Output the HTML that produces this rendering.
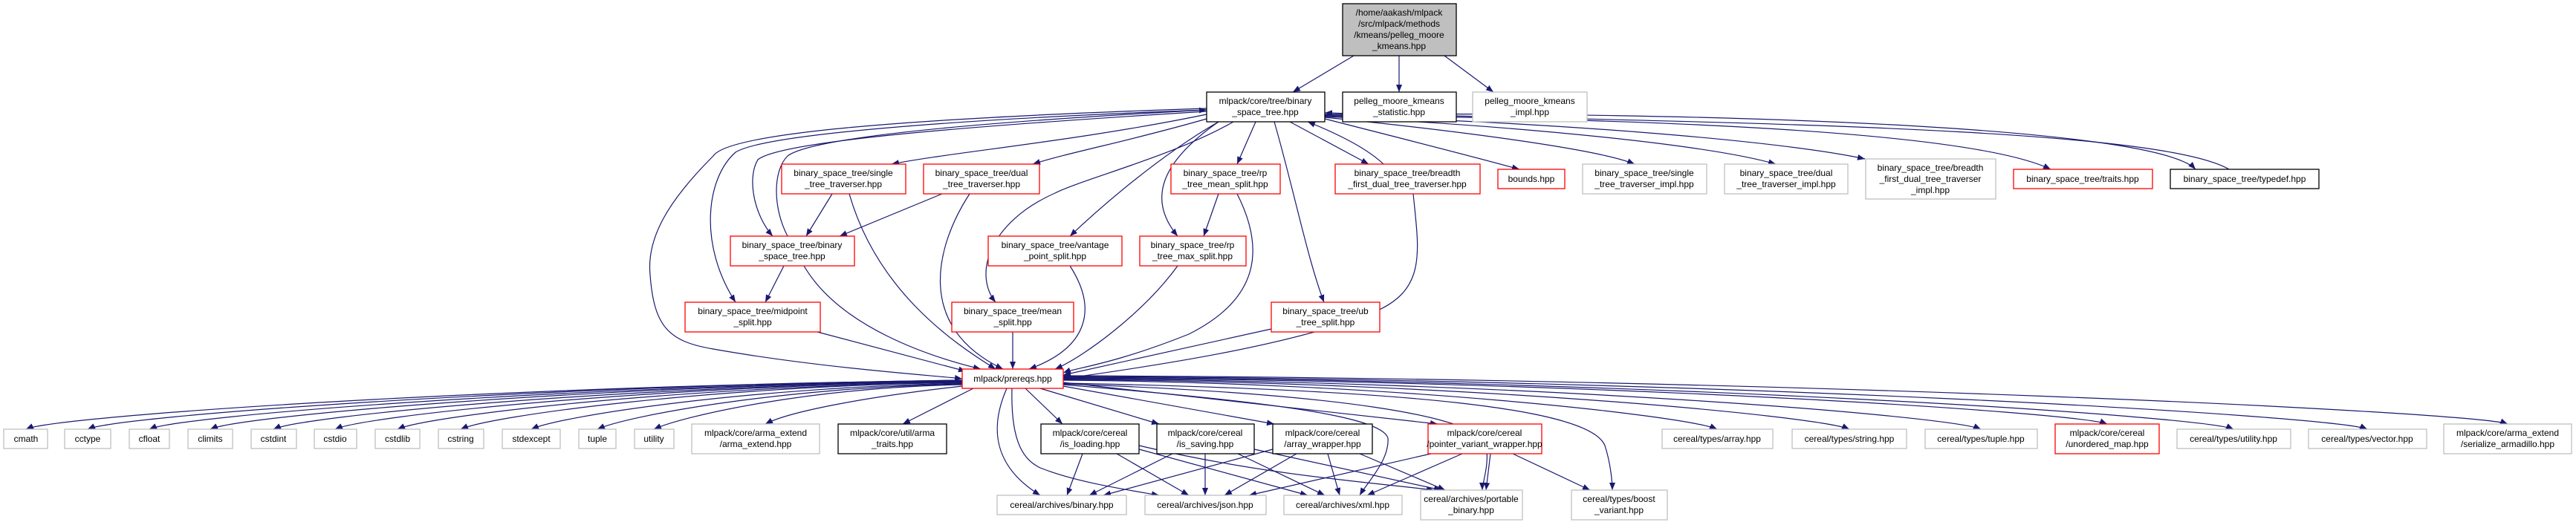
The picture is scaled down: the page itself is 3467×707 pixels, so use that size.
<!DOCTYPE html>
<html><head><meta charset="utf-8"><style>
html,body{margin:0;padding:0;background:#fff;}
svg{display:block}
text{font-family:"Liberation Sans",sans-serif;font-size:12px;fill:#000;text-anchor:middle}
.e{fill:none;stroke:#191970;stroke-width:1.2;marker-end:url(#a)}
.r{fill:#fff;stroke:#ff0000;stroke-width:1.3}
.k{fill:#fff;stroke:#000;stroke-width:1.3}
.g{fill:#fff;stroke:#bfbfbf;stroke-width:1.3}
</style></head><body>
<svg width="3467" height="707" viewBox="0 0 3467 707" xmlns="http://www.w3.org/2000/svg">
<defs><marker id="a" markerWidth="10" markerHeight="8" refX="10" refY="4" orient="auto" markerUnits="userSpaceOnUse"><path d="M0,0L10,4L0,8z" fill="#191970"/></marker></defs>

<!-- edges -->
<path class="e" d="M1822,75 L1740,124"/>
<path class="e" d="M1883,75 L1883,124"/>
<path class="e" d="M1944,75 L2010,124"/>
<path class="e" d="M1624,154 C1450,190 1280,205 1200,221"/>
<path class="e" d="M1624,160 C1520,190 1440,205 1390,221"/>
<path class="e" d="M1624,150 C1300,170 1050,190 1020,215 C1005,240 1015,290 1040,318"/>
<path class="e" d="M1060,318 C1040,280 1040,230 1060,210 C1100,180 1400,160 1624,148"/>
<path class="e" d="M1624,148 C1300,160 1030,180 990,205 C950,240 940,330 990,407"/>
<path class="e" d="M1624,146 C1200,160 980,180 960,210 C900,270 870,320 875,370 C880,440 900,460 960,470 C1100,495 1250,505 1295,510"/>
<path class="e" d="M1640,164 C1560,210 1480,280 1440,318"/>
<path class="e" d="M1660,164 C1580,210 1460,240 1420,260 C1330,300 1310,370 1340,407"/>
<path class="e" d="M1690,164 L1665,221"/>
<path class="e" d="M1640,164 C1560,220 1545,270 1585,318"/>
<path class="e" d="M1715,164 C1740,250 1760,350 1782,407"/>
<path class="e" d="M1736,164 L1842,221"/>
<path class="e" d="M1862,221 C1840,200 1800,180 1760,164"/>
<path class="e" d="M1783,160 C1900,190 1980,210 2045,228"/>
<path class="e" d="M1783,158 C1950,175 2150,200 2200,221"/>
<path class="e" d="M1783,157 C2050,170 2300,195 2390,221"/>
<path class="e" d="M1783,156 C2100,165 2400,190 2510,214"/>
<path class="e" d="M1783,155 C2200,160 2650,175 2760,228"/>
<path class="e" d="M1783,154 C2300,150 2900,170 2955,228"/>
<path class="e" d="M3000,228 C2900,170 2300,165 1783,152"/>

<path class="e" d="M1120,261 L1085,318"/>
<path class="e" d="M1143,261 C1180,390 1280,460 1340,497"/>
<path class="e" d="M1268,261 L1130,318"/>
<path class="e" d="M1305,261 C1260,330 1230,440 1350,497"/>
<path class="e" d="M1055,358 L1030,407"/>
<path class="e" d="M1082,358 C1130,440 1250,480 1320,497"/>
<path class="e" d="M1100,447 L1300,500"/>
<path class="e" d="M1363,447 L1363,497"/>
<path class="e" d="M1440,358 C1480,420 1460,470 1385,497"/>
<path class="e" d="M1640,261 L1620,318"/>
<path class="e" d="M1665,261 C1700,330 1700,400 1600,450 C1500,490 1450,495 1431,502"/>
<path class="e" d="M1585,358 C1540,420 1460,480 1420,497"/>
<path class="e" d="M1711,443 L1431,505"/>
<path class="e" d="M1902,261 C1910,340 1920,390 1850,420 C1730,470 1500,500 1431,510"/>

<path class="e" d="M1295,512 C665,520 75,560 35,578"/>
<path class="e" d="M1295,512 C706,520 158,560 118,578"/>
<path class="e" d="M1295,513 C748,520 241,560 201,578"/>
<path class="e" d="M1295,513 C789,520 323,560 283,578"/>
<path class="e" d="M1295,514 C831,520 408,560 368,578"/>
<path class="e" d="M1295,514 C873,520 491,560 451,578"/>
<path class="e" d="M1295,515 C915,520 575,560 535,578"/>
<path class="e" d="M1295,515 C957,520 660,560 620,578"/>
<path class="e" d="M1295,516 C1005,522 755,560 715,578"/>
<path class="e" d="M1295,517 C1050,522 844,560 804,578"/>
<path class="e" d="M1295,518 C1088,522 920,560 880,578"/>
<path class="e" d="M1295,520 C1160,535 1060,555 1030,571"/>
<path class="e" d="M1310,523 L1215,571"/>
<path class="e" d="M1380,523 L1430,571"/>
<path class="e" d="M1400,523 L1560,571"/>
<path class="e" d="M1431,520 L1715,571"/>
<path class="e" d="M1431,515 L1935,571"/>
<path class="e" d="M1431,512 C1871,515 2271,560 2311,578"/>
<path class="e" d="M1431,511 C1960,514 2449,560 2489,578"/>
<path class="e" d="M1431,510 C2048,513 2626,560 2666,578"/>
<path class="e" d="M1431,509 C2133,512 2796,555 2836,571"/>
<path class="e" d="M1431,508 C2218,511 2966,560 3006,578"/>
<path class="e" d="M1431,507 C2308,510 3146,560 3186,578"/>
<path class="e" d="M1431,506 C2403,509 3335,555 3375,571"/>

<path class="e" d="M1355,523 C1330,580 1340,630 1400,667"/>
<path class="e" d="M1362,523 C1360,600 1380,620 1400,630 C1450,650 1520,660 1560,667"/>
<path class="e" d="M1431,518 C1700,540 1860,560 1868,590 C1870,620 1840,650 1830,667"/>
<path class="e" d="M1431,517 C1800,530 1990,560 2000,600 C2005,625 1995,650 1995,660"/>
<path class="e" d="M1431,516 C1900,525 2140,550 2160,600 C2168,625 2170,650 2170,660"/>

<path class="e" d="M1457,611 L1436,667"/>
<path class="e" d="M1503,611 L1600,667"/>
<path class="e" d="M1533,605 L1760,667"/>
<path class="e" d="M1533,600 C1700,640 1850,650 1930,660"/>
<path class="e" d="M1578,611 L1466,667"/>
<path class="e" d="M1622,611 L1622,667"/>
<path class="e" d="M1666,611 L1783,667"/>
<path class="e" d="M1688,605 L1940,660"/>
<path class="e" d="M1713,605 L1485,667"/>
<path class="e" d="M1745,611 L1648,667"/>
<path class="e" d="M1787,611 L1803,667"/>
<path class="e" d="M1830,611 L1945,660"/>
<path class="e" d="M1926,611 L1681,667"/>
<path class="e" d="M1968,611 L1840,667"/>
<path class="e" d="M2006,611 L2000,660"/>
<path class="e" d="M2036,611 L2140,660"/>

<!-- nodes -->
<rect x="1807" y="5" width="153" height="70" fill="#bfbfbf" stroke="#000" stroke-width="1.3"/>
<text x="1883" y="21">/home/aakash/mlpack</text><text x="1883" y="36">/src/mlpack/methods</text><text x="1883" y="51">/kmeans/pelleg_moore</text><text x="1883" y="66">_kmeans.hpp</text>

<rect class="k" x="1624" y="124" width="159" height="40"/><text x="1703" y="140">mlpack/core/tree/binary</text><text x="1703" y="155">_space_tree.hpp</text>
<rect class="k" x="1807" y="124" width="153" height="40"/><text x="1883" y="140">pelleg_moore_kmeans</text><text x="1883" y="155">_statistic.hpp</text>
<rect class="g" x="1982" y="124" width="154" height="40"/><text x="2059" y="140">pelleg_moore_kmeans</text><text x="2059" y="155">_impl.hpp</text>

<rect class="r" x="1052" y="221" width="167" height="40"/><text x="1135" y="237">binary_space_tree/single</text><text x="1135" y="252">_tree_traverser.hpp</text>
<rect class="r" x="1243" y="221" width="156" height="40"/><text x="1321" y="237">binary_space_tree/dual</text><text x="1321" y="252">_tree_traverser.hpp</text>
<rect class="r" x="1576" y="221" width="147" height="40"/><text x="1649" y="237">binary_space_tree/rp</text><text x="1649" y="252">_tree_mean_split.hpp</text>
<rect class="r" x="1797" y="221" width="195" height="40"/><text x="1894" y="237">binary_space_tree/breadth</text><text x="1894" y="252">_first_dual_tree_traverser.hpp</text>
<rect class="r" x="2016" y="228" width="90" height="26"/><text x="2061" y="245">bounds.hpp</text>
<rect class="g" x="2130" y="221" width="167" height="40"/><text x="2213" y="237">binary_space_tree/single</text><text x="2213" y="252">_tree_traverser_impl.hpp</text>
<rect class="g" x="2321" y="221" width="166" height="40"/><text x="2404" y="237">binary_space_tree/dual</text><text x="2404" y="252">_tree_traverser_impl.hpp</text>
<rect class="g" x="2511" y="214" width="175" height="54"/><text x="2598" y="230">binary_space_tree/breadth</text><text x="2598" y="245">_first_dual_tree_traverser</text><text x="2598" y="260">_impl.hpp</text>
<rect class="r" x="2710" y="228" width="187" height="26"/><text x="2803" y="245">binary_space_tree/traits.hpp</text>
<rect class="k" x="2921" y="228" width="200" height="26"/><text x="3021" y="245">binary_space_tree/typedef.hpp</text>

<rect class="r" x="983" y="318" width="167" height="40"/><text x="1066" y="334">binary_space_tree/binary</text><text x="1066" y="349">_space_tree.hpp</text>
<rect class="r" x="1330" y="318" width="180" height="40"/><text x="1420" y="334">binary_space_tree/vantage</text><text x="1420" y="349">_point_split.hpp</text>
<rect class="r" x="1534" y="318" width="143" height="40"/><text x="1605" y="334">binary_space_tree/rp</text><text x="1605" y="349">_tree_max_split.hpp</text>

<rect class="r" x="922" y="407" width="182" height="40"/><text x="1013" y="423">binary_space_tree/midpoint</text><text x="1013" y="438">_split.hpp</text>
<rect class="r" x="1281" y="407" width="164" height="40"/><text x="1363" y="423">binary_space_tree/mean</text><text x="1363" y="438">_split.hpp</text>
<rect class="r" x="1711" y="407" width="146" height="40"/><text x="1784" y="423">binary_space_tree/ub</text><text x="1784" y="438">_tree_split.hpp</text>

<rect class="r" x="1295" y="497" width="136" height="26"/><text x="1363" y="514">mlpack/prereqs.hpp</text>

<rect class="g" x="5" y="578" width="59" height="26"/><text x="35" y="595">cmath</text>
<rect class="g" x="87" y="578" width="62" height="26"/><text x="118" y="595">cctype</text>
<rect class="g" x="174" y="578" width="54" height="26"/><text x="201" y="595">cfloat</text>
<rect class="g" x="253" y="578" width="60" height="26"/><text x="283" y="595">climits</text>
<rect class="g" x="338" y="578" width="61" height="26"/><text x="368" y="595">cstdint</text>
<rect class="g" x="423" y="578" width="57" height="26"/><text x="451" y="595">cstdio</text>
<rect class="g" x="505" y="578" width="60" height="26"/><text x="535" y="595">cstdlib</text>
<rect class="g" x="590" y="578" width="61" height="26"/><text x="620" y="595">cstring</text>
<rect class="g" x="676" y="578" width="78" height="26"/><text x="715" y="595">stdexcept</text>
<rect class="g" x="779" y="578" width="50" height="26"/><text x="804" y="595">tuple</text>
<rect class="g" x="854" y="578" width="53" height="26"/><text x="880" y="595">utility</text>
<rect class="g" x="931" y="571" width="172" height="40"/><text x="1017" y="587">mlpack/core/arma_extend</text><text x="1017" y="602">/arma_extend.hpp</text>
<rect class="k" x="1128" y="571" width="146" height="40"/><text x="1201" y="587">mlpack/core/util/arma</text><text x="1201" y="602">_traits.hpp</text>
<rect class="k" x="1401" y="571" width="132" height="40"/><text x="1467" y="587">mlpack/core/cereal</text><text x="1467" y="602">/is_loading.hpp</text>
<rect class="k" x="1557" y="571" width="131" height="40"/><text x="1622" y="587">mlpack/core/cereal</text><text x="1622" y="602">/is_saving.hpp</text>
<rect class="k" x="1713" y="571" width="134" height="40"/><text x="1780" y="587">mlpack/core/cereal</text><text x="1780" y="602">/array_wrapper.hpp</text>
<rect class="r" x="1922" y="571" width="153" height="40"/><text x="1998" y="587">mlpack/core/cereal</text><text x="1998" y="602">/pointer_variant_wrapper.hpp</text>
<rect class="g" x="2237" y="578" width="149" height="26"/><text x="2311" y="595">cereal/types/array.hpp</text>
<rect class="g" x="2412" y="578" width="154" height="26"/><text x="2489" y="595">cereal/types/string.hpp</text>
<rect class="g" x="2591" y="578" width="151" height="26"/><text x="2666" y="595">cereal/types/tuple.hpp</text>
<rect class="r" x="2766" y="571" width="140" height="40"/><text x="2836" y="587">mlpack/core/cereal</text><text x="2836" y="602">/unordered_map.hpp</text>
<rect class="g" x="2930" y="578" width="153" height="26"/><text x="3006" y="595">cereal/types/utility.hpp</text>
<rect class="g" x="3107" y="578" width="159" height="26"/><text x="3186" y="595">cereal/types/vector.hpp</text>
<rect class="g" x="3289" y="571" width="172" height="40"/><text x="3375" y="587">mlpack/core/arma_extend</text><text x="3375" y="602">/serialize_armadillo.hpp</text>

<rect class="g" x="1342" y="667" width="174" height="26"/><text x="1429" y="684">cereal/archives/binary.hpp</text>
<rect class="g" x="1541" y="667" width="163" height="26"/><text x="1622" y="684">cereal/archives/json.hpp</text>
<rect class="g" x="1728" y="667" width="159" height="26"/><text x="1807" y="684">cereal/archives/xml.hpp</text>
<rect class="g" x="1912" y="660" width="137" height="40"/><text x="1980" y="676">cereal/archives/portable</text><text x="1980" y="691">_binary.hpp</text>
<rect class="g" x="2115" y="660" width="129" height="40"/><text x="2179" y="676">cereal/types/boost</text><text x="2179" y="691">_variant.hpp</text>
</svg>
</body></html>
